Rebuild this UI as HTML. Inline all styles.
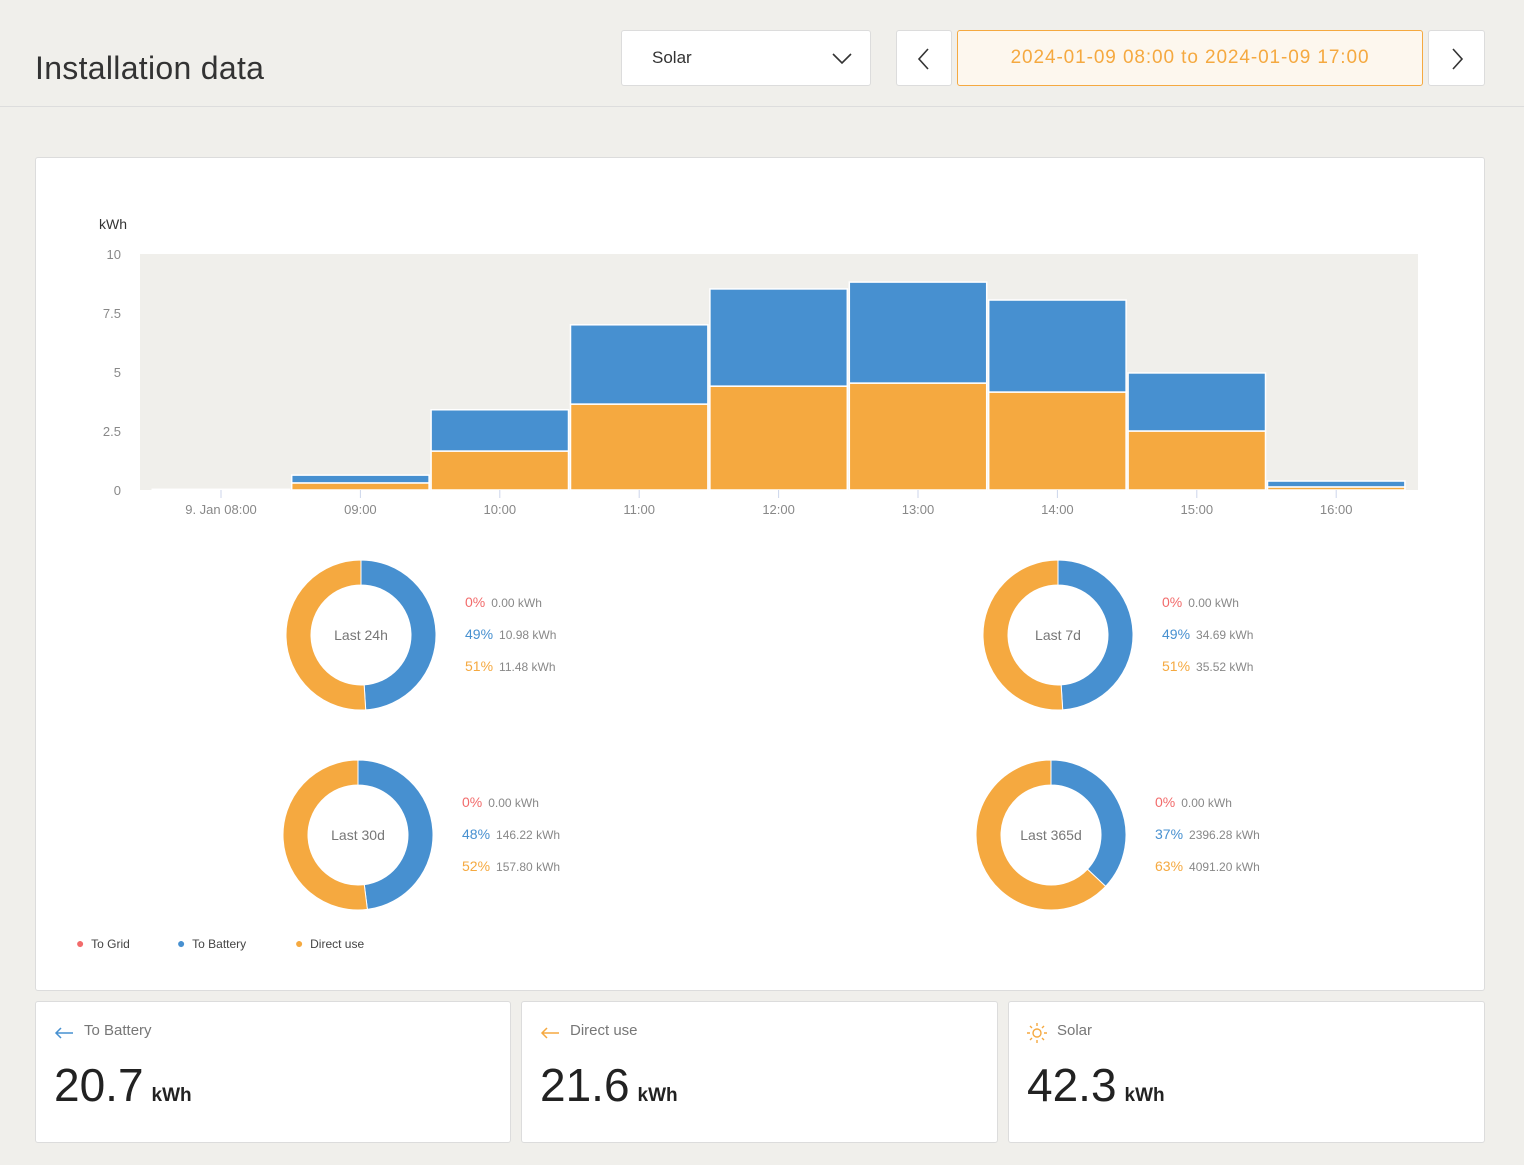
<!DOCTYPE html>
<html><head><meta charset="utf-8"><style>
body{margin:0;width:1524px;height:1165px;background:#f0efeb;font-family:"Liberation Sans",sans-serif;position:relative;overflow:hidden;color:#333}
.abs{position:absolute}
.box{position:absolute;background:#fff;border:1px solid #dcdcdc;border-radius:3px;box-sizing:border-box}
.card .lbl{position:absolute;left:48px;top:20px;font-size:15px;color:#777}
.card .val{position:absolute;left:18px;top:56px;font-size:46px;color:#222}
.card .val span{font-size:19px;font-weight:bold;margin-left:8px}
</style></head><body>
<div class="abs" style="left:0;top:0;width:1524px;height:106px;border-bottom:1px solid #ddd"></div>
<div class="abs" style="left:35px;top:50px;font-size:32px;letter-spacing:0.3px;color:#333">Installation data</div>
<div class="box" style="left:621px;top:30px;width:250px;height:56px">
 <div class="abs" style="left:30px;top:17px;font-size:17px">Solar</div>
 <svg class="abs" style="left:210px;top:20px" width="20" height="14"><polyline points="1,3 10,12 19,3" fill="none" stroke="#333" stroke-width="1.6"/></svg>
</div>
<div class="box" style="left:896px;top:30px;width:56px;height:56px"><svg class="abs" style="left:20px;top:17px" width="14" height="22"><polyline points="11,1 2,11 11,21" fill="none" stroke="#333" stroke-width="1.6"/></svg></div>
<div class="box" style="left:957px;top:30px;width:466px;height:56px;background:#fdf7ee;border-color:#f5a940;color:#f5a940;font-size:19px;letter-spacing:0.9px;text-align:center;line-height:54px">2024-01-09 08:00 to 2024-01-09 17:00</div>
<div class="box" style="left:1428px;top:30px;width:57px;height:56px"><svg class="abs" style="left:22px;top:17px" width="14" height="22"><polyline points="2,1 11,11 2,21" fill="none" stroke="#333" stroke-width="1.6"/></svg></div>

<div class="box" style="left:35px;top:157px;width:1450px;height:834px"></div>
<svg class="abs" id="chart" style="left:0;top:0" width="1524" height="530"></svg>
<div id="donuts"></div>

<div class="abs" style="left:76px;top:935px;font-size:12px;color:#444">
 <span style="position:absolute;left:0;white-space:nowrap"><span style="color:#f26b6b;font-size:14px">●</span>&nbsp;&nbsp;To Grid</span>
 <span style="position:absolute;left:101px;white-space:nowrap"><span style="color:#4790d0;font-size:14px">●</span>&nbsp;&nbsp;To Battery</span>
 <span style="position:absolute;left:219px;white-space:nowrap"><span style="color:#f5a940;font-size:14px">●</span>&nbsp;&nbsp;Direct use</span>
</div>

<div class="box card" style="left:35px;top:1001px;width:476px;height:142px">
 <svg class="abs" style="left:18px;top:24px" width="20" height="14"><path d="M19 7H2M7 2L2 7L7 12" fill="none" stroke="#4790d0" stroke-width="1.5"/></svg>
 <div class="lbl">To Battery</div><div class="val">20.7<span>kWh</span></div></div>
<div class="box card" style="left:521px;top:1001px;width:477px;height:142px">
 <svg class="abs" style="left:18px;top:24px" width="20" height="14"><path d="M19 7H2M7 2L2 7L7 12" fill="none" stroke="#f5a940" stroke-width="1.5"/></svg>
 <div class="lbl">Direct use</div><div class="val">21.6<span>kWh</span></div></div>
<div class="box card" style="left:1008px;top:1001px;width:477px;height:142px">
 <svg class="abs" style="left:18px;top:21px" width="20" height="20"><circle cx="10" cy="10" r="4" fill="none" stroke="#f5a940" stroke-width="1.4"/><g stroke="#f5a940" stroke-width="1.4"><path d="M10 0v3M10 17v3M0 10h3M17 10h3M3 3l2 2M15 15l2 2M3 17l2-2M15 5l2-2"/></g></svg>
 <div class="lbl">Solar</div><div class="val">42.3<span>kWh</span></div></div>

<script>
const categories=["9. Jan 08:00","09:00","10:00","11:00","12:00","13:00","14:00","15:00","16:00"];
const directUse=[0.01,0.3,1.65,3.64,4.4,4.53,4.15,2.5,0.13];
const toBattery=[0.02,0.33,1.75,3.36,4.12,4.28,3.9,2.46,0.25];
const yTicks=[0,2.5,5,7.5,10];
const yTickLabels=["0","2.5","5","7.5","10"];
const donutLabels=["Last 24h","Last 7d","Last 30d","Last 365d"];
const donutGridPct=[0,0,0,0];
const donutBatteryPct=[49,49,48,37];
const donutDirectPct=[51,51,52,63];
const donutGridKwh=["0.00","0.00","0.00","0.00"];
const donutBatteryKwh=["10.98","34.69","146.22","2396.28"];
const donutDirectKwh=["11.48","35.52","157.80","4091.20"];

const NS="http://www.w3.org/2000/svg";
const svg=document.getElementById('chart');
const L=140,R=1418,T=254,B=490;
const y=v=>B-(v/10)*(B-T);
const slot=139.4;
const x=i=>221+i*slot;
function mk(tag,at,parent){const e=document.createElementNS(NS,tag);for(const k in at)e.setAttribute(k,at[k]);(parent||svg).appendChild(e);return e;}
let bg=mk('rect',{x:L,y:T,width:R-L,height:B-T,fill:'#f0efeb'});


let yt=mk('text',{x:99,y:229,'font-size':14,fill:'#333','font-family':'Liberation Sans'});yt.textContent='kWh';


yTicks.forEach((v,i)=>{const t=mk('text',{x:121,y:y(v)+5,'font-size':13,fill:'#888','text-anchor':'end','font-family':'Liberation Sans'});t.textContent=yTickLabels[i];

});
categories.forEach((c,i)=>{
 const x0=x(i)-slot/2+1,w=slot-2;
 const o=mk('rect',{x:x0,y:y(directUse[i]),width:w,height:y(0)-y(directUse[i]),fill:'#f5a940',stroke:'#fff','stroke-width':1.5});
 
 
 const tot=directUse[i]+toBattery[i];
 const b=mk('rect',{x:x0,y:y(tot),width:w,height:y(directUse[i])-y(tot),fill:'#4790d0',stroke:'#fff','stroke-width':1.5});
 
 
 mk('line',{x1:x(i),x2:x(i),y1:B,y2:B+8,stroke:'#ccd6eb'});
 const t=mk('text',{x:x(i),y:514,'font-size':13,fill:'#888','text-anchor':'middle','font-family':'Liberation Sans'});t.textContent=c;
 
 
});

const pos=[[361,635],[1058,635],[358,835],[1051,835]];
const dsvg=document.createElementNS(NS,'svg');
dsvg.setAttribute('width',1524);dsvg.setAttribute('height',1165);
dsvg.setAttribute('style','position:absolute;left:0;top:0');


document.body.appendChild(dsvg);
function arc(cx,cy,r1,r2,a0,a1){
 const p=(a,r)=>[cx+r*Math.sin(a),cy-r*Math.cos(a)];
 const lg=(a1-a0)>Math.PI?1:0;
 const [x1,y1]=p(a0,r1),[x2,y2]=p(a1,r1),[x3,y3]=p(a1,r2),[x4,y4]=p(a0,r2);
 return `M${x1} ${y1}A${r1} ${r1} 0 ${lg} 1 ${x2} ${y2}L${x3} ${y3}A${r2} ${r2} 0 ${lg} 0 ${x4} ${y4}Z`;
}
donutLabels.forEach((lab,i)=>{
 const [cx,cy]=pos[i];
 const tot=donutGridPct[i]+donutBatteryPct[i]+donutDirectPct[i];
 let a=0;
 [[donutGridPct[i],'#f26b6b','donut-to-grid'],[donutBatteryPct[i],'#4790d0','donut-to-battery'],[donutDirectPct[i],'#f5a940','donut-direct-use']].forEach(([v,c,n])=>{
  if(v<=0)return;
  const a1=a+v/tot*2*Math.PI;
  const p=mk('path',{d:arc(cx,cy,75,50,a,a1),fill:c,stroke:'#fff','stroke-width':1},dsvg);
  
  
  a=a1;
 });
 const t=mk('text',{x:cx,y:cy+5,'font-size':14,fill:'#777','text-anchor':'middle','font-family':'Liberation Sans'},dsvg);t.textContent=lab;
 
 
 const tx=cx+104;
 [[donutGridPct[i],donutGridKwh[i],'#f26b6b'],[donutBatteryPct[i],donutBatteryKwh[i],'#4790d0'],[donutDirectPct[i],donutDirectKwh[i],'#f5a940']].forEach(([p,k,c],j)=>{
  const g=mk('text',{x:tx,y:cy-28+j*32,'font-family':'Liberation Sans'},dsvg);
  
  
  const s1=mk('tspan',{fill:c,'font-size':14},g);s1.textContent=p+'%';
  const s2=mk('tspan',{fill:'#888','font-size':12,dx:6},g);s2.textContent=k+' kWh';
 });
});
</script>
</body></html>
